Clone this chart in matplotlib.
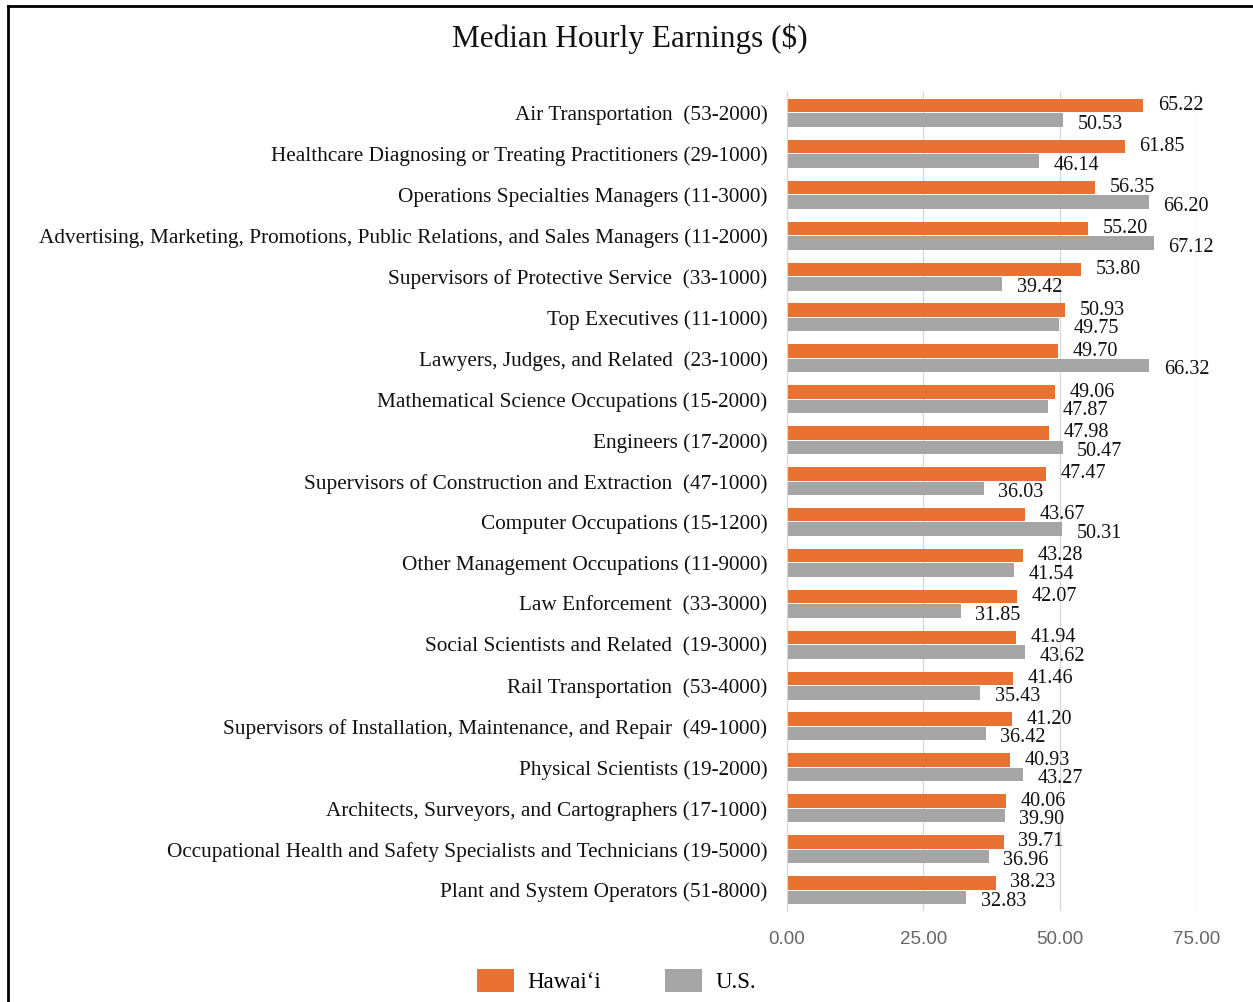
import matplotlib
matplotlib.use("Agg")
import matplotlib.pyplot as plt
from matplotlib.patches import Patch
from matplotlib.lines import Line2D

categories = [
    "Air Transportation  (53-2000)",
    "Healthcare Diagnosing or Treating Practitioners (29-1000)",
    "Operations Specialties Managers (11-3000)",
    "Advertising, Marketing, Promotions, Public Relations, and Sales Managers (11-2000)",
    "Supervisors of Protective Service  (33-1000)",
    "Top Executives (11-1000)",
    "Lawyers, Judges, and Related  (23-1000)",
    "Mathematical Science Occupations (15-2000)",
    "Engineers (17-2000)",
    "Supervisors of Construction and Extraction  (47-1000)",
    "Computer Occupations (15-1200)",
    "Other Management Occupations (11-9000)",
    "Law Enforcement  (33-3000)",
    "Social Scientists and Related  (19-3000)",
    "Rail Transportation  (53-4000)",
    "Supervisors of Installation, Maintenance, and Repair  (49-1000)",
    "Physical Scientists (19-2000)",
    "Architects, Surveyors, and Cartographers (17-1000)",
    "Occupational Health and Safety Specialists and Technicians (19-5000)",
    "Plant and System Operators (51-8000)",
]
hawaii = [65.22, 61.85, 56.35, 55.20, 53.80, 50.93, 49.70, 49.06, 47.98, 47.47,
          43.67, 43.28, 42.07, 41.94, 41.46, 41.20, 40.93, 40.06, 39.71, 38.23]
us = [50.53, 46.14, 66.20, 67.12, 39.42, 49.75, 66.32, 47.87, 50.47, 36.03,
      50.31, 41.54, 31.85, 43.62, 35.43, 36.42, 43.27, 39.90, 36.96, 32.83]
series_names = ["Hawai\u2018i", "U.S."]
xticks = [0, 25, 50, 75]

ORANGE = "#E97132"
GRAY = "#A5A5A5"
serif = ["Liberation Serif", "DejaVu Serif"]

fig = plt.figure(figsize=(12.53, 10.02), dpi=100)
ax = fig.add_axes([0.628, 0.0913, 0.955 - 0.628, 0.9077 - 0.0913])

n = len(categories)
ys = list(range(n))
h = 0.33
off = 0.177
yo = [y - off for y in ys]
yg = [y + off for y in ys]
ax.barh(yo, hawaii, height=h, color=ORANGE, zorder=3)
ax.barh(yg, us, height=h, color=GRAY, zorder=3)

for y, v in zip(yo, hawaii):
    ax.annotate(f"{v:.2f}", xy=(v, y), xytext=(10.5, 0), textcoords="offset points",
                ha="left", va="center", fontsize=14.5, family=serif, color="#111111",
                annotation_clip=False)
for y, v in zip(yg, us):
    ax.annotate(f"{v:.2f}", xy=(v, y), xytext=(10.5, -3), textcoords="offset points",
                ha="left", va="center", fontsize=14.5, family=serif, color="#111111",
                annotation_clip=False)

ax.set_ylim(n - 0.5, -0.5)
ax.set_xlim(0, 75)
ax.set_yticks(ys)
ax.set_yticklabels(categories, family=serif, fontsize=15.3, color="#111111")
ax.set_xticks(xticks)
ax.set_xticklabels([f"{t:.2f}" for t in xticks], family=["Liberation Sans", "DejaVu Sans"],
                   fontsize=13.5, color="#666666")
ax.tick_params(axis="y", length=0, pad=14)
ax.tick_params(axis="x", length=0, pad=14.5)
ax.grid(axis="x", color="#D9D9D9", linewidth=1, zorder=0)
for s in ["top", "right", "bottom"]:
    ax.spines[s].set_visible(False)
ax.spines["left"].set_color("#D9D9D9")
ax.spines["left"].set_zorder(4)

fig.text(0.503, 0.961, "Median Hourly Earnings ($)", ha="center", va="center",
         fontsize=22.5, family=serif, color="#111111")

handles = [Patch(facecolor=ORANGE), Patch(facecolor=GRAY)]
fig.legend(handles, series_names, loc="center", bbox_to_anchor=(0.492, 0.021), ncol=2,
           frameon=False, prop={"family": serif, "size": 16.5},
           handlelength=1.6, handleheight=1.22, handletextpad=0.6, columnspacing=2.8)

# outer border (top and left)
fig.add_artist(Line2D([0.0062, 1.0], [0.9937, 0.9937], transform=fig.transFigure,
                      color="black", linewidth=2, solid_capstyle="projecting"))
fig.add_artist(Line2D([0.0062, 0.0062], [0.0, 0.9937], transform=fig.transFigure,
                      color="black", linewidth=2, solid_capstyle="projecting"))

fig.savefig("out.png", dpi=100, facecolor="white")
